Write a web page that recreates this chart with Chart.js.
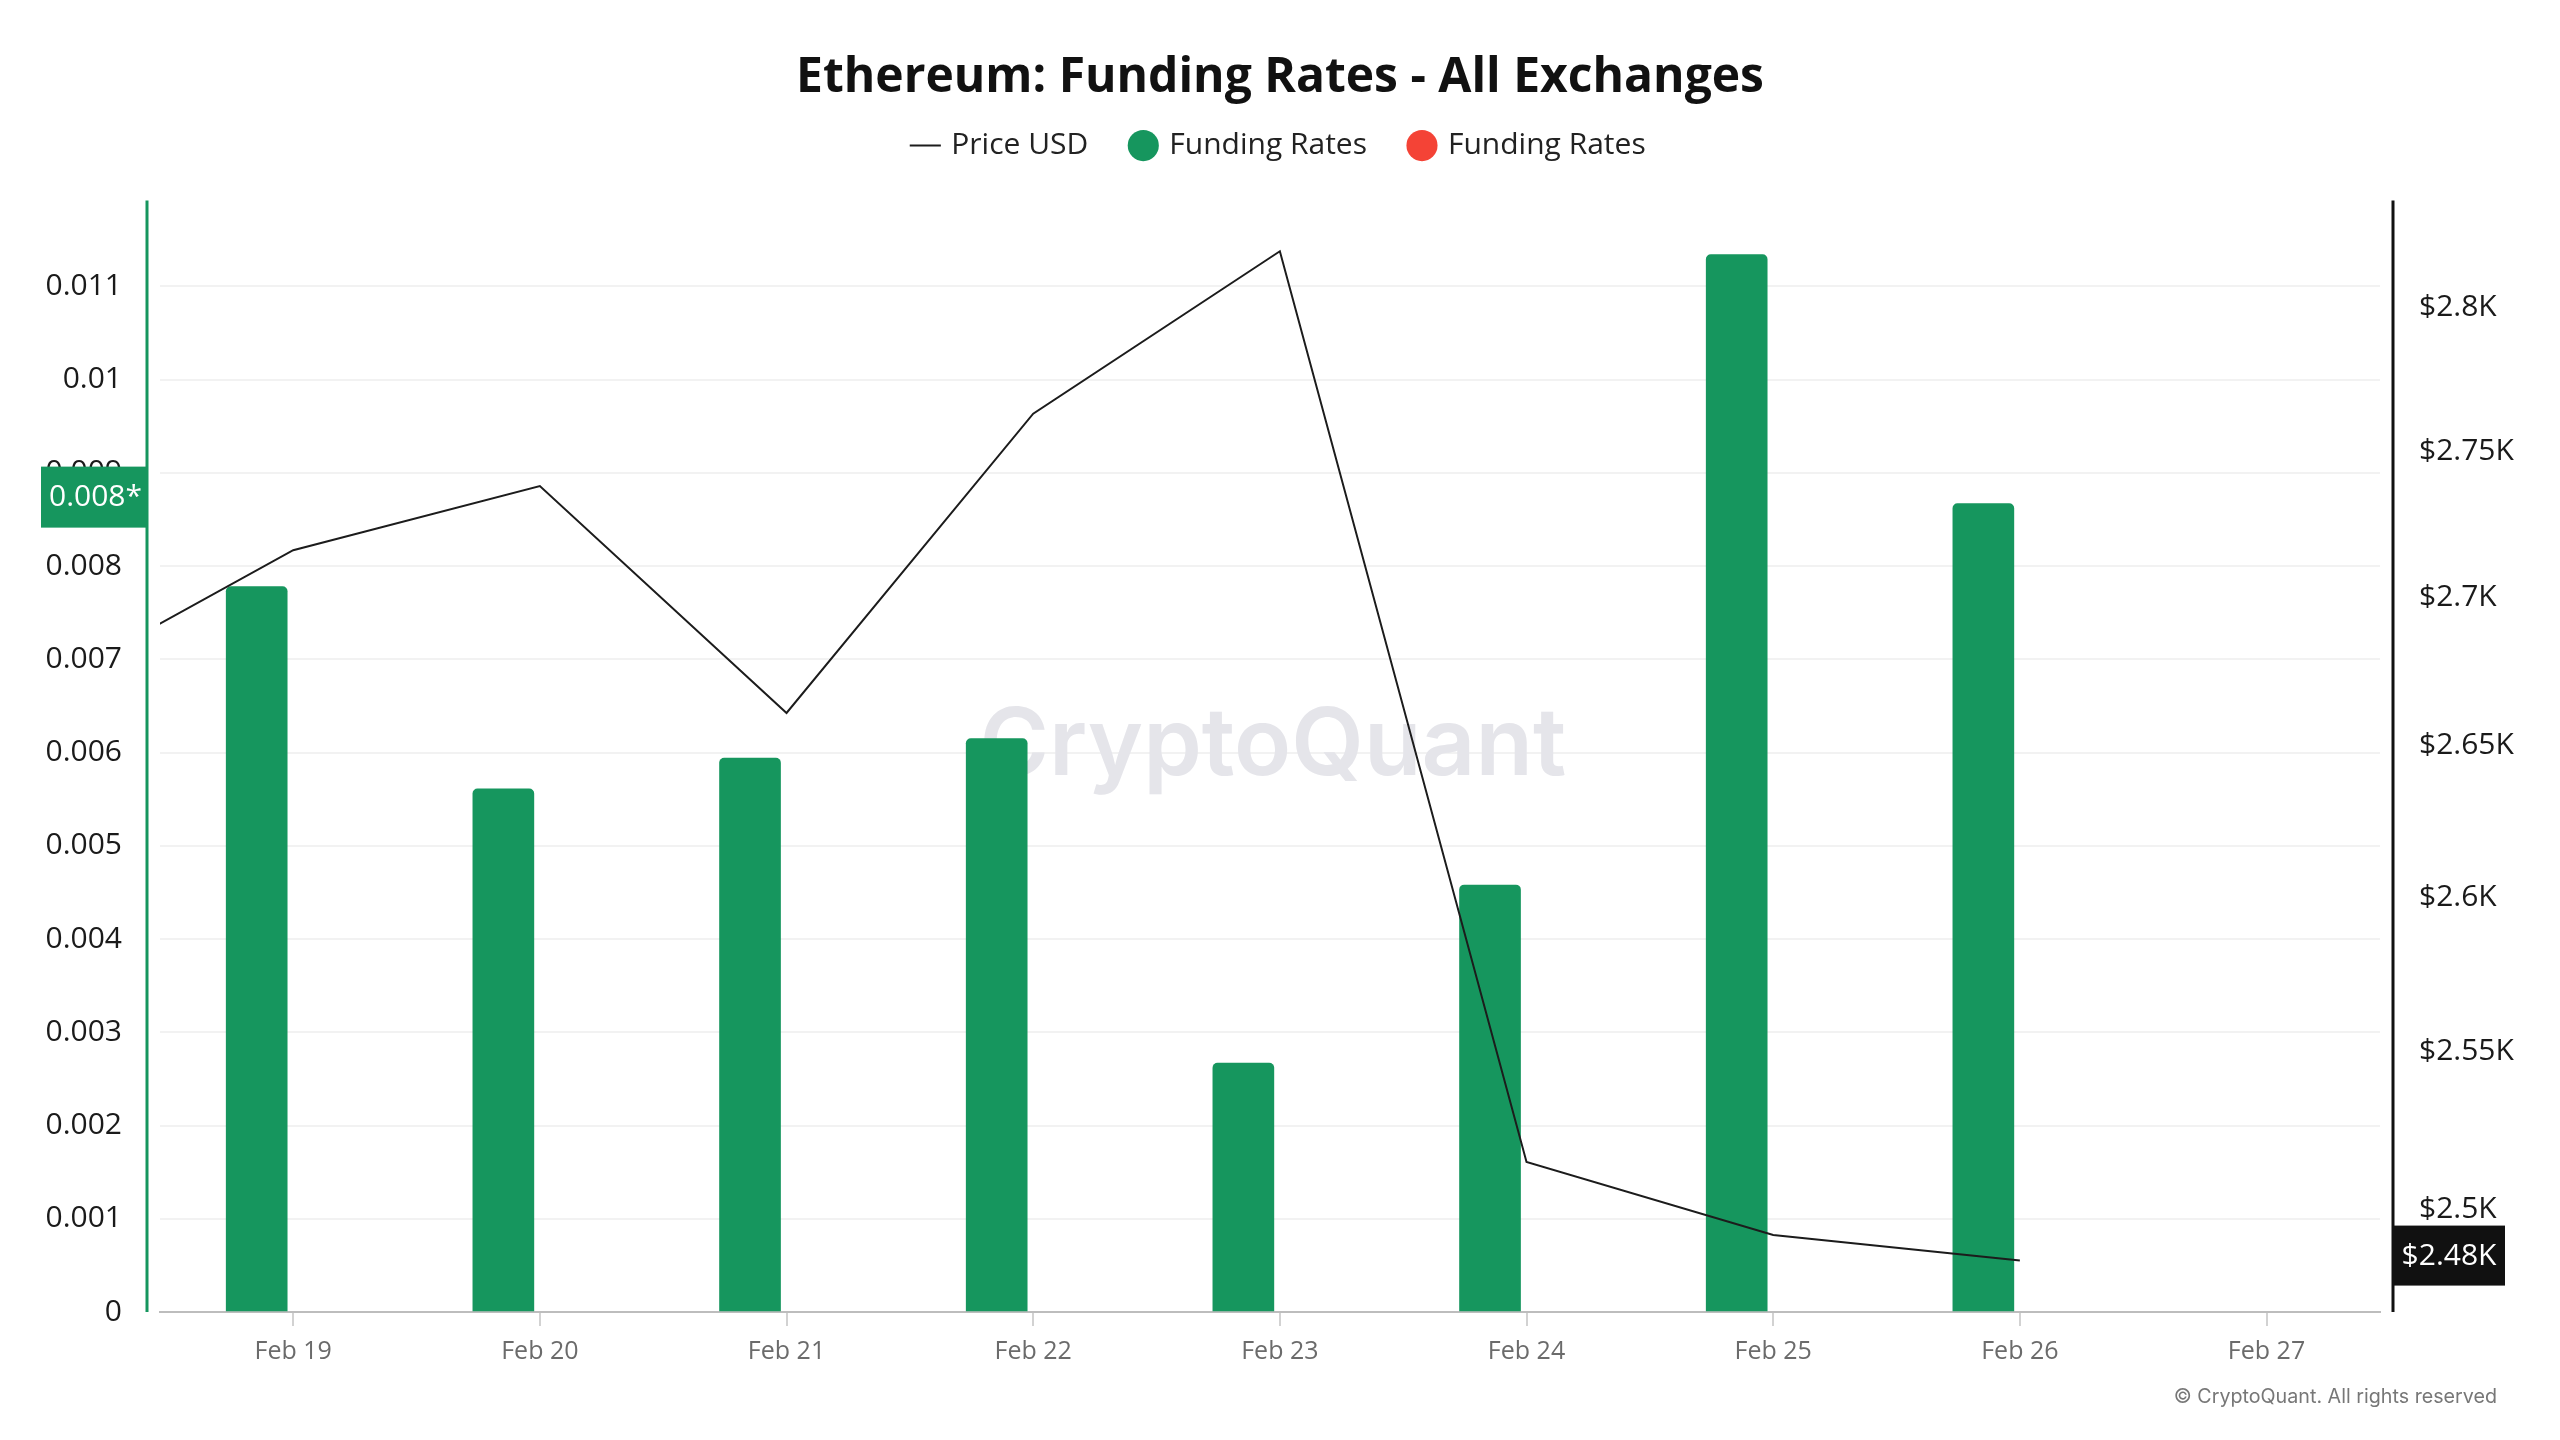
<!DOCTYPE html>
<html>
<head>
<meta charset="utf-8">
<title>Ethereum: Funding Rates - All Exchanges</title>
<script src="https://cdn.jsdelivr.net/npm/chart.js@4.4.1/dist/chart.umd.min.js"></script>
<style>
  html, body { margin: 0; padding: 0; background: #fff; }
  #wrap { width: 2560px; height: 1440px; position: relative; }
</style>
</head>
<body>
<div id="wrap"><canvas id="funding-chart"></canvas></div>
<script>
// day of month (February)
var xTickDays = [19, 20, 21, 22, 23, 24, 25, 26, 27];
var xTickLabels = ['Feb 19', 'Feb 20', 'Feb 21', 'Feb 22', 'Feb 23', 'Feb 24', 'Feb 25', 'Feb 26', 'Feb 27'];

var fundingDays = [19, 20, 21, 22, 23, 24, 25, 26];
var fundingRates = [0.00778, 0.00561, 0.00594, 0.00615, 0.00267, 0.00458, 0.01134, 0.00867];

var priceDays = [18, 19, 20, 21, 22, 23, 24, 25, 26];
var priceUsd = [2670, 2716, 2738, 2661, 2763, 2820, 2515, 2492, 2484];

var rateTicks = [0, 0.001, 0.002, 0.003, 0.004, 0.005, 0.006, 0.007, 0.008, 0.009, 0.01, 0.011];
var priceTicks = [2500, 2550, 2600, 2650, 2700, 2750, 2800];

var GREEN = '#16965e';
var RED = '#f44336';

var xMin = 18.46, xMax = 27.46;
var barShift = 0.148; // funding bars sit just left of the day tick

function points(xs, ys, keep) {
    return xs.map(function (x, i) {
        return { x: x, y: keep(ys[i]) ? ys[i] : null };
    });
}

function priceLabel(v, digits) {
    var k = v / 1000;
    return '$' + (digits ? k.toFixed(digits) : k) + 'K';
}

// extra room between the legend row and the plot
var legendGap = {
    id: 'legendGap',
    afterInit: function (chart) {
        var fit = chart.legend.fit;
        chart.legend.fit = function () {
            fit.apply(this, arguments);
            this.height += 30;
        };
    }
};

// watermark, outer axis lines, last value badges, copyright
var decorations = {
    id: 'decorations',
    beforeDatasetsDraw: function (chart) {
        var a = chart.chartArea, ctx = chart.ctx;
        ctx.save();
        ctx.font = '600 94px Inter';
        ctx.fillStyle = '#e5e5ea';
        ctx.textAlign = 'center';
        ctx.textBaseline = 'middle';
        ctx.fillText('CryptoQuant', (a.left + a.right) / 2 + 3, (a.top + a.bottom) / 2 - 10);
        ctx.restore();
    },
    afterDraw: function (chart) {
        var a = chart.chartArea, ctx = chart.ctx;
        var leftX = a.left - 13, rightX = a.right + 13;
        ctx.save();
        ctx.lineWidth = 3;
        ctx.strokeStyle = GREEN;
        ctx.beginPath(); ctx.moveTo(leftX, a.top); ctx.lineTo(leftX, a.bottom); ctx.stroke();
        ctx.strokeStyle = '#111';
        ctx.beginPath(); ctx.moveTo(rightX, a.top); ctx.lineTo(rightX, a.bottom); ctx.stroke();

        ctx.font = '30px "Open Sans"';
        ctx.textBaseline = 'middle';

        var lastRate = fundingRates[fundingRates.length - 1];
        var ry = chart.scales.y.getPixelForValue(lastRate);
        ctx.fillStyle = GREEN;
        ctx.fillRect(41, ry - 37, leftX - 41, 61);
        ctx.fillStyle = '#fff';
        ctx.textAlign = 'left';
        ctx.fillText((Math.floor(lastRate * 1000) / 1000) + '*', 49, ry - 6);

        var lastPrice = priceUsd[priceUsd.length - 1];
        var py = chart.scales.y2.getPixelForValue(lastPrice);
        ctx.fillStyle = '#111';
        ctx.fillRect(rightX, py - 35, 112, 60);
        ctx.fillStyle = '#fff';
        ctx.textAlign = 'center';
        ctx.fillText(priceLabel(lastPrice, 2), rightX + 56, py - 4);

        ctx.font = '19.7px Inter';
        ctx.fillStyle = '#777';
        ctx.textAlign = 'right';
        ctx.fillText('\u00a9 CryptoQuant. All rights reserved', 2497, 1397);
        ctx.restore();
    }
};

var ctx = document.getElementById('funding-chart').getContext('2d');
var chart = new Chart(ctx, {
    type: 'bar',
    data: {
        datasets: [{
            type: 'line',
            label: 'Price USD',
            data: points(priceDays, priceUsd, function () { return true; }),
            xAxisID: 'x',
            yAxisID: 'y2',
            borderColor: '#1c1c1c',
            borderWidth: 2,
            pointRadius: 0,
            pointStyle: 'line',
            pointBorderWidth: 2,
            tension: 0,
            order: 0
        }, {
            label: 'Funding Rates',
            data: points(fundingDays, fundingRates, function (v) { return v >= 0; }),
            xAxisID: 'xb',
            yAxisID: 'y',
            backgroundColor: GREEN,
            barThickness: 61,
            grouped: false,
            borderRadius: { topLeft: 5, topRight: 5, bottomLeft: 0, bottomRight: 0 },
            borderSkipped: 'start',
            order: 1
        }, {
            label: 'Funding Rates',
            data: points(fundingDays, fundingRates, function (v) { return v < 0; }),
            xAxisID: 'xb',
            yAxisID: 'y',
            backgroundColor: RED,
            barThickness: 61,
            grouped: false,
            order: 2
        }]
    },
    plugins: [legendGap, decorations],
    options: {
        responsive: true,
        maintainAspectRatio: false,
        animation: false,
        devicePixelRatio: 1,
        layout: { padding: 0 },
        plugins: {
            title: {
                display: true,
                text: 'Ethereum: Funding Rates - All Exchanges',
                color: '#111',
                font: { family: 'Open Sans', weight: 'bold', size: 48 },
                padding: { top: 50, bottom: -21 }
            },
            legend: {
                display: true,
                labels: {
                    usePointStyle: true,
                    boxWidth: 22,
                    boxHeight: 22,
                    padding: 44,
                    color: '#222',
                    font: { family: 'Open Sans', size: 30 }
                }
            },
            tooltip: { enabled: false }
        },
        scales: {
            x: {
                type: 'linear',
                position: 'bottom',
                offset: false,
                min: xMin,
                max: xMax,
                afterBuildTicks: function (scale) {
                    scale.ticks = xTickDays.map(function (d) { return { value: d }; });
                },
                afterFit: function (scale) { scale.height = 128; },
                ticks: {
                    autoSkip: false,
                    maxRotation: 0,
                    padding: 11,
                    color: '#6b6b6b',
                    font: { family: 'Open Sans', size: 25 },
                    callback: function (v) { return xTickLabels[xTickDays.indexOf(v)]; }
                },
                grid: { offset: false, drawOnChartArea: false, drawTicks: true, tickLength: 14, color: '#d2d2d2', lineWidth: 2 },
                border: { display: true, dash: [9, 6], color: '#bdbdbd', width: 2 }
            },
            xb: {
                type: 'linear',
                display: false,
                offset: false,
                grid: { offset: false },
                min: xMin + barShift,
                max: xMax + barShift
            },
            y: {
                position: 'left',
                min: 0,
                max: 0.01192,
                afterBuildTicks: function (scale) {
                    scale.ticks = rateTicks.map(function (v) { return { value: v }; });
                },
                afterFit: function (scale) { scale.width = 160; },
                ticks: {
                    autoSkip: false,
                    padding: 38,
                    color: '#1a1a1a',
                    font: { family: 'Open Sans', size: 30 },
                    callback: function (v) { return String(parseFloat(v.toFixed(3))); }
                },
                grid: {
                    drawTicks: false,
                    lineWidth: 2,
                    color: function (c) { return c.tick && c.tick.value === 0 ? 'rgba(0,0,0,0)' : '#f2f2f2'; }
                },
                border: { display: false }
            },
            y2: {
                type: 'logarithmic',
                position: 'right',
                min: 2468,
                max: 2838,
                afterBuildTicks: function (scale) {
                    scale.ticks = priceTicks.map(function (v) { return { value: v }; });
                },
                afterFit: function (scale) { scale.width = 180; },
                ticks: {
                    autoSkip: false,
                    padding: 31,
                    color: '#1a1a1a',
                    font: { family: 'Open Sans', size: 30 },
                    callback: function (v) { return priceLabel(v); }
                },
                grid: { display: false },
                border: { display: false }
            }
        }
    }
});
</script>
</body>
</html>
